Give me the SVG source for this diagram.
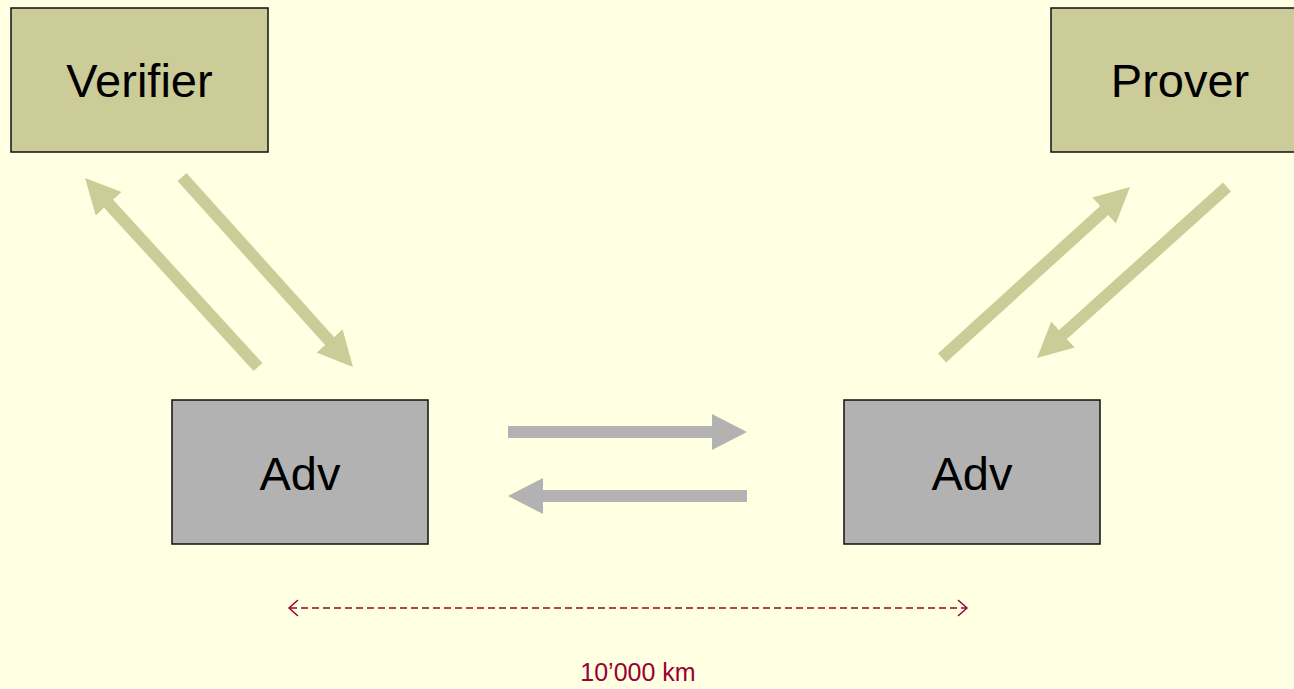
<svg xmlns="http://www.w3.org/2000/svg" width="1294" height="689" viewBox="0 0 1294 689">
  <style>
    .party { fill: #CCCC99; stroke: #111111; stroke-width: 1.5; }
    .adv { fill: #B2B2B2; stroke: #111111; stroke-width: 1.5; }
    .label { font-family: "Liberation Sans", Arial, sans-serif; font-size: 47px; fill: #000000; text-anchor: middle; }
    .olive { stroke: #CCCC99; stroke-width: 12; fill: none; }
    .grey { stroke: #B2B2B2; stroke-width: 12; fill: none; }
    .dist { stroke: #990033; stroke-width: 1.5; fill: none; }
    .distlabel { font-family: "Liberation Sans", Arial, sans-serif; font-size: 25px; fill: #990033; text-anchor: middle; }
  </style>
  <defs>
    <marker id="headOlive" markerUnits="userSpaceOnUse" markerWidth="35" markerHeight="35" refX="5" refY="17.5" orient="auto">
      <path d="M0,0 L35,17.5 L0,35 Z" fill="#CCCC99"/>
    </marker>
    <marker id="headGrey" markerUnits="userSpaceOnUse" markerWidth="35" markerHeight="36" refX="5" refY="18" orient="auto">
      <path d="M0,0 L35,18 L0,36 Z" fill="#B2B2B2"/>
    </marker>
  </defs>

  <!-- page background -->
  <rect x="0" y="0" width="1294" height="689" fill="#FFFFE1"/>

  <g id="verifier">
    <rect class="party" x="11" y="8" width="257" height="144"/>
    <text class="label" x="139.5" y="97">Verifier</text>
  </g>

  <g id="prover">
    <rect class="party" x="1051" y="8" width="257" height="144"/>
    <text class="label" x="1180" y="97">Prover</text>
  </g>

  <g id="adv-left">
    <rect class="adv" x="172" y="400" width="256" height="144"/>
    <text class="label" x="300" y="490">Adv</text>
  </g>

  <g id="adv-right">
    <rect class="adv" x="844" y="400" width="256" height="144"/>
    <text class="label" x="972" y="490">Adv</text>
  </g>

  <g id="connectors">
    <!-- verifier side exchange -->
    <line class="olive" x1="258" y1="367" x2="105.3" y2="200.1" marker-end="url(#headOlive)"/>
    <line class="olive" x1="182" y1="177" x2="332.9" y2="344.7" marker-end="url(#headOlive)"/>
    <!-- prover side exchange -->
    <line class="olive" x1="942" y1="358" x2="1107.8" y2="207.2" marker-end="url(#headOlive)"/>
    <line class="olive" x1="1227" y1="187" x2="1059.3" y2="337.9" marker-end="url(#headOlive)"/>
    <!-- relay between adversaries -->
    <line class="grey" x1="508" y1="432" x2="717" y2="432" marker-end="url(#headGrey)"/>
    <line class="grey" x1="747" y1="496" x2="538" y2="496" marker-end="url(#headGrey)"/>
    <!-- distance indicator -->
    <line class="dist" x1="290" y1="608" x2="966" y2="608" stroke-dasharray="7,4"/>
    <polyline class="dist" points="298,600 289,608 298,616"/>
    <polyline class="dist" points="958,600 967,608 958,616"/>
  </g>

  <text class="distlabel" x="638" y="681">10’000 km</text>
</svg>
